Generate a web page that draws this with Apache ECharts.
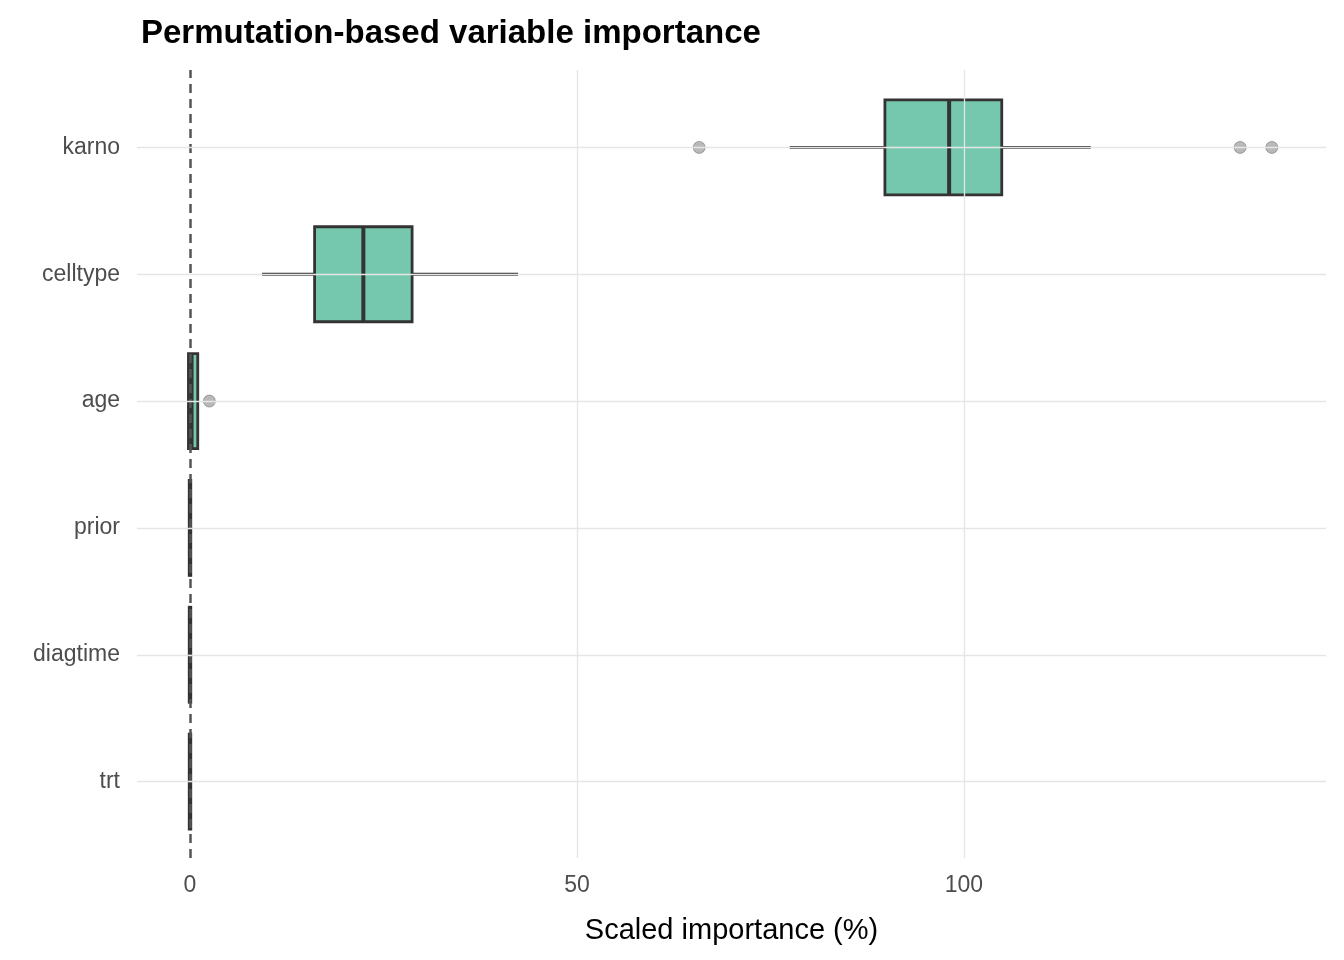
<!DOCTYPE html>
<html>
<head>
<meta charset="utf-8">
<script src="https://cdn.jsdelivr.net/npm/echarts@6/dist/echarts.min.js"></script>
<style>html,body{margin:0;background:#fff}#main-chart{width:1344px;height:960px}</style>
</head>
<body>
<div id="main-chart"></div>
<script>
const chartDom = document.getElementById('main-chart');
const myChart = echarts.init(chartDom);

// bottom to top on the axis; [low, Q1, median, Q3, high]
const vars = ['trt', 'diagtime', 'prior', 'age', 'celltype', 'karno'];
const boxes = {
    trt: [-0.15, -0.1, 0, 0.1, 0.15],
    diagtime: [-0.15, -0.1, 0, 0.1, 0.15],
    prior: [-0.15, -0.1, 0, 0.1, 0.15],
    age: [-0.3, -0.2, 0.2, 1.0, 1.1],
    celltype: [9.3, 16.1, 22.4, 28.7, 42.4],
    karno: [77.5, 89.8, 98.1, 104.9, 116.4]
};
const outliers = [['age', 2.5], ['karno', 65.8], ['karno', 135.7], ['karno', 139.8]];

const xRange = { min: -6.85, max: 146.8 };
const font = 'Liberation Sans';

function renderBox(params, api) {
    const y = api.value(0);
    const v = [1, 2, 3, 4, 5].map(i => api.value(i));
    const c = v.map(x => api.coord([x, y]));
    const cy = c[0][1];
    const h = 95;
    const stroke = { stroke: '#333', lineWidth: 2.8 };
    return {
        type: 'group',
        children: [
            { type: 'line', shape: { x1: c[0][0], y1: cy, x2: c[1][0], y2: cy }, style: stroke },
            { type: 'line', shape: { x1: c[3][0], y1: cy, x2: c[4][0], y2: cy }, style: stroke },
            {
                type: 'rect',
                shape: { x: c[1][0], y: cy - h / 2, width: Math.max(c[3][0] - c[1][0], 1), height: h },
                style: { fill: 'rgba(102,194,165,0.9)', stroke: '#333', lineWidth: 2.8 }
            },
            { type: 'line', shape: { x1: c[2][0], y1: cy - h / 2, x2: c[2][0], y2: cy + h / 2 },
              style: { stroke: '#333', lineWidth: 4 } }
        ]
    };
}

const option = {
    animation: false,
    title: {
        text: 'Permutation-based variable importance',
        left: 136, top: 12,
        textStyle: { fontFamily: font, fontWeight: 'bold', fontSize: 33, color: '#000' }
    },
    grid: [
        { left: 137, right: 18, top: 84, height: 761 },
        { left: 137, right: 18, top: 70, height: 788 }
    ],
    xAxis: [
        { gridIndex: 0, type: 'value', ...xRange, show: false },
        {
            gridIndex: 1, type: 'value', ...xRange,
            axisLine: { show: false }, axisTick: { show: false }, splitLine: { show: false },
            axisLabel: {
                fontSize: 23, color: '#4d4d4d', fontFamily: font, margin: 16,
                customValues: [0, 50, 100]
            },
            name: 'Scaled importance (%)', nameLocation: 'middle', nameGap: 58,
            nameTextStyle: { fontSize: 29, color: '#000', fontFamily: font }
        }
    ],
    yAxis: [
        {
            gridIndex: 0, type: 'category', data: vars,
            axisLine: { show: false }, axisTick: { show: false }, splitLine: { show: false },
            axisLabel: { fontSize: 23, color: '#4d4d4d', fontFamily: font, margin: 17 }
        },
        { gridIndex: 1, type: 'value', min: 0, max: 1, show: false }
    ],
    series: [
        {
            type: 'scatter', xAxisIndex: 1, yAxisIndex: 1, data: [], silent: true,
            markLine: {
                symbol: 'none', silent: true, label: { show: false },
                data: [
                    { xAxis: 50, lineStyle: { type: 'solid', color: '#e5e5e5', width: 1.3 } },
                    { xAxis: 100, lineStyle: { type: 'solid', color: '#e5e5e5', width: 1.3 } },
                    { xAxis: 0, lineStyle: { type: [9, 6], color: '#555', width: 2.5 } }
                ]
            }
        },
        {
            type: 'scatter', xAxisIndex: 0, yAxisIndex: 0, data: [], silent: true,
            markLine: {
                symbol: 'none', silent: true, label: { show: false },
                lineStyle: { type: 'solid', color: '#e5e5e5', width: 1.3 },
                data: vars.map(v => [
                    { coord: [xRange.min, v] }, { coord: [xRange.max, v] }
                ])
            }
        },
        {
            type: 'custom', xAxisIndex: 0, yAxisIndex: 0, z: 3,
            renderItem: renderBox,
            encode: { x: [1, 2, 3, 4, 5], y: 0 },
            data: vars.map((v, i) => [i].concat(boxes[v]))
        },
        {
            type: 'scatter', xAxisIndex: 0, yAxisIndex: 0, z: 4,
            symbolSize: 12,
            itemStyle: { color: 'rgba(120,120,120,0.65)', borderColor: 'rgba(90,90,90,0.6)', borderWidth: 1 },
            data: outliers.map(o => [o[1], o[0]])
        }
    ]
};

myChart.setOption(option);
</script>
</body>
</html>
